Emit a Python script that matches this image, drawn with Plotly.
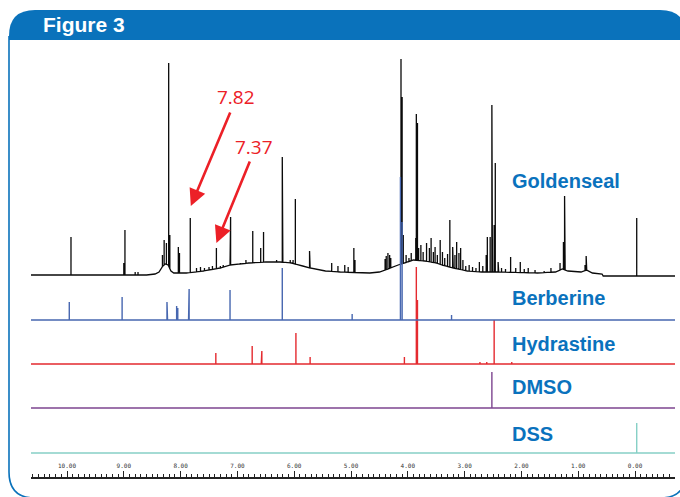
import numpy as np
import plotly.graph_objects as go

# ---------------- data ----------------
SPECTRA_NAMES = ["Goldenseal", "Berberine", "Hydrastine", "DMSO", "DSS"]

# Goldenseal broad baseline (ppm, height above its zero line)
GOLD_BASE_PPM = [10.634, 8.60, 8.45, 8.38, 8.33, 8.27, 8.22, 8.17, 8.12, 7.90, 7.60, 7.30,
                 7.13, 6.80, 6.50, 6.25, 6.05, 5.85, 5.72, 5.45, 5.19, 4.67, 4.50, 4.35,
                 4.17, 3.90, 3.70, 3.50, 3.40, 3.20, 2.95, 2.70, 2.40, 1.72, 1.40, 1.28,
                 1.18, 0.95, 0.85, 0.75, 0.58, 0.56, -0.704]
GOLD_BASE_H = [0, 0, 1, 3, 8, 11, 10, 4, 2, 2, 4, 7,
               10, 12, 13, 13, 12, 9, 7, 4, 3, 2, 3, 6,
               10, 15, 14, 12, 10, 7, 4, 3, 3, 2, 3, 6,
               4, 3, 5, 2, 1, -1, -1]

# Goldenseal peaks (ppm, top above its zero line)
GOLD_PEAK_PPM = [9.93, 9.00, 8.98, 8.80, 8.75, 8.32, 8.29, 8.25, 8.21, 8.19, 8.04, 8.02,
                 7.83, 7.72, 7.65, 7.58, 7.50, 7.44, 7.37, 7.30, 7.25, 7.13, 7.12,
                 6.95, 6.85, 6.73, 6.59, 6.54, 6.31, 6.21, 6.20, 6.07, 6.02, 5.98,
                 5.73, 5.34, 5.23, 5.11, 5.05, 4.95, 4.93,
                 4.40, 4.38, 4.35, 4.32, 4.30, 4.12, 4.10, 4.08, 4.03, 3.98, 3.94,
                 3.86, 3.85, 3.83, 3.81, 3.77, 3.73, 3.67, 3.62, 3.59, 3.55, 3.52,
                 3.48, 3.43, 3.39, 3.35, 3.30, 3.26, 3.21, 3.17, 3.14, 3.10, 3.07,
                 3.03, 2.98, 2.92, 2.86, 2.80, 2.74, 2.68, 2.62, 2.60, 2.55, 2.52, 2.51,
                 2.48, 2.46, 2.41, 2.35, 2.28, 2.19, 2.10, 2.02, 1.95, 1.88, 1.76, 1.60,
                 1.48, 1.32, 1.26, 1.24, 1.23, 1.09, 0.88, 0.86, -0.03]
GOLD_PEAK_H = [38, 12, 45, 3, 3, 20, 35, 32, 212, 40, 28, 22,
               57, 7, 8, 7, 8, 9, 27, 9, 10, 20, 58,
               12, 15, 44, 27, 43, 15, 118, 16, 15, 15, 76,
               24, 12, 9, 10, 8, 27, 15,
               16, 19, 22, 20, 17, 216, 178, 40, 20, 17, 22,
               37, 161, 152, 27, 30, 23, 32, 27, 37, 23, 28,
               20, 35, 23, 17, 21, 55, 28, 20, 33, 22, 27,
               15, 9, 10, 8, 7, 13, 9, 20, 38, 38, 170, 138,
               50, 112, 13, 7, 6, 18, 7, 13, 6, 7, 5, 4,
               7, 12, 33, 79, 68, 4, 10, 19, 57]

BERB_PEAK_PPM = [9.96, 9.03, 8.24, 8.23, 8.07, 8.05, 7.86, 7.85, 7.13, 6.21, 4.98, 4.13, 4.10, 3.23]
BERB_PEAK_H = [18, 23, 18, 16, 14, 12, 10, 31, 30, 52, 6, 143, 98, 5]

HYD_PEAK_PPM = [7.38, 7.37, 6.74, 6.58, 6.57, 5.97, 5.72, 4.06, 3.85, 3.83, 2.73, 2.61, 2.48, 2.17]
HYD_PEAK_H = [11, 11, 18, 6, 13, 31, 7, 7, 97, 64, 2, 2, 44, 2]

DMSO_PEAK_PPM = [2.52, 2.51]
DMSO_PEAK_H = [36, 12]

DSS_PEAK_PPM = [-0.03]
DSS_PEAK_H = [30]

ANNOT_LABELS = ["7.82", "7.37"]
ANNOT_PPM = [7.82, 7.37]

X_TICK_VALUES = [10, 9, 8, 7, 6, 5, 4, 3, 2, 1, 0]
X_TICK_TEXT = ["10.00", "9.00", "8.00", "7.00", "6.00", "5.00", "4.00", "3.00", "2.00", "1.00", "0.00"]

# ---------------- layout constants ----------------
W, H = 680, 497
ML, MR, MT, MB = 31, 5, 50, 20
PW, PH = W - ML - MR, H - MT - MB
X_RANGE = [10.634, -0.704]
OFFSETS = [202, 157, 113, 69, 24]          # baseline of each spectrum (px above axis)
COLORS = ["#0a0a0a", "#4767b0", "#e42a2f", "#7d4590", "#86d0c6"]
WIDTHS = [1.3, 1.4, 1.4, 1.4, 1.4]
BLUE = "#0a72bb"
LABEL_BLUE = "#0a72bd"
RED = "#ec2027"


def px(xp):
    return (xp - ML) / PW


def py(yp):
    return (MT + PH - yp) / PH


def spectrum_xy(base_ppm, base_h, peak_ppm, peak_h, offset):
    bp = np.array(base_ppm)[::-1]
    bh = np.array(base_h)[::-1]
    pts = [(p, [h]) for p, h in zip(base_ppm, base_h)]
    for p, h in zip(peak_ppm, peak_h):
        b = float(np.interp(p, bp, bh))
        pts.append((p, [b, h, b]))
    pts.sort(key=lambda t: -t[0])
    xs, ys = [], []
    for p, hs in pts:
        for h in hs:
            xs.append(p)
            ys.append(h + offset)
    return xs, ys


flat_ppm = [X_RANGE[0], X_RANGE[1]]
flat_h = [0, 0]
series = [
    (GOLD_BASE_PPM, GOLD_BASE_H, GOLD_PEAK_PPM, GOLD_PEAK_H),
    (flat_ppm, flat_h, BERB_PEAK_PPM, BERB_PEAK_H),
    (flat_ppm, flat_h, HYD_PEAK_PPM, HYD_PEAK_H),
    (flat_ppm, flat_h, DMSO_PEAK_PPM, DMSO_PEAK_H),
    (flat_ppm, flat_h, DSS_PEAK_PPM, DSS_PEAK_H),
]

fig = go.Figure()
order = [4, 3, 0, 2, 1]
for i in order:
    bpm, bh, pp, ph = series[i]
    xs, ys = spectrum_xy(bpm, bh, pp, ph, OFFSETS[i])
    fig.add_trace(go.Scatter(x=xs, y=ys, mode="lines", name=SPECTRA_NAMES[i],
                             line=dict(color=COLORS[i], width=WIDTHS[i]),
                             hoverinfo="skip", showlegend=False))

shapes = []
hdr = (f"M {px(9)},{py(40)} L {px(9)},{py(36)} Q {px(9)},{py(10)} {px(35)},{py(10)} "
       f"L {px(660)},{py(10)} Q {px(686)},{py(10)} {px(686)},{py(36)} L {px(686)},{py(40)} Z")
shapes.append(dict(type="path", xref="paper", yref="paper", path=hdr,
                   fillcolor=BLUE, line=dict(width=0), layer="above"))
frame = (f"M {px(9)},{py(36)} L {px(9)},{py(472)} Q {px(9)},{py(498)} {px(35)},{py(498)} "
         f"L {px(660)},{py(498)} Q {px(686)},{py(498)} {px(686)},{py(472)} L {px(686)},{py(36)}")
shapes.append(dict(type="path", xref="paper", yref="paper", path=frame,
                   line=dict(color=BLUE, width=1.6), layer="above"))

annotations = [
    dict(xref="paper", yref="paper", x=px(41), y=py(25), xanchor="left", yanchor="middle",
         text="<b>Figure 3</b>", showarrow=False,
         font=dict(family="Liberation Sans", size=21, color="white")),
]
label_y = [181, 298, 344, 387, 434]
for name, ly in zip(SPECTRA_NAMES, label_y):
    annotations.append(dict(xref="paper", yref="paper", x=px(510), y=py(ly), xanchor="left",
                            yanchor="middle", text=f"<b>{name}</b>", showarrow=False,
                            font=dict(family="Liberation Sans", size=20, color=LABEL_BLUE)))

text_pos = [(236, 97), (254, 147)]
tips = [(206, 40, -95), (243, 34, -83)]
for lab, ppm, (tx, ty), (tipy, ax, ay) in zip(ANNOT_LABELS, ANNOT_PPM, text_pos, tips):
    annotations.append(dict(xref="paper", yref="paper", x=px(tx), y=py(ty), xanchor="center",
                            yanchor="middle", text=lab, showarrow=False,
                            font=dict(family="Open Sans", size=19, color=RED)))
    annotations.append(dict(xref="x", yref="y", x=ppm, y=PH + MT - tipy,
                            ax=ax, ay=ay, text="", showarrow=True, arrowhead=2,
                            arrowsize=1.3, arrowwidth=2.6, arrowcolor=RED, standoff=0))

fig.update_layout(
    width=W, height=H,
    margin=dict(l=ML, r=MR, t=MT, b=MB, pad=0),
    paper_bgcolor="white", plot_bgcolor="white",
    shapes=shapes, annotations=annotations,
    xaxis=dict(range=X_RANGE, showgrid=False, zeroline=False,
               showline=True, linecolor="#222222", linewidth=1.5,
               tickmode="array", tickvals=X_TICK_VALUES, ticktext=X_TICK_TEXT,
               ticks="inside", ticklen=6, tickwidth=1, tickcolor="#222222",
               ticklabelposition="inside",
               tickfont=dict(family="DejaVu Sans Mono", size=6, color="#333333"),
               minor=dict(tickmode="linear", tick0=0, dtick=0.1, ticks="inside",
                          ticklen=3, tickwidth=1, tickcolor="#222222", showgrid=False),
               fixedrange=True),
    yaxis=dict(range=[0, PH], visible=False, fixedrange=True),
    showlegend=False,
)

fig.write_html("out.html", config={"displayModeBar": False},
               post_script="document.body.style.margin='0';document.body.style.overflow='hidden';")
